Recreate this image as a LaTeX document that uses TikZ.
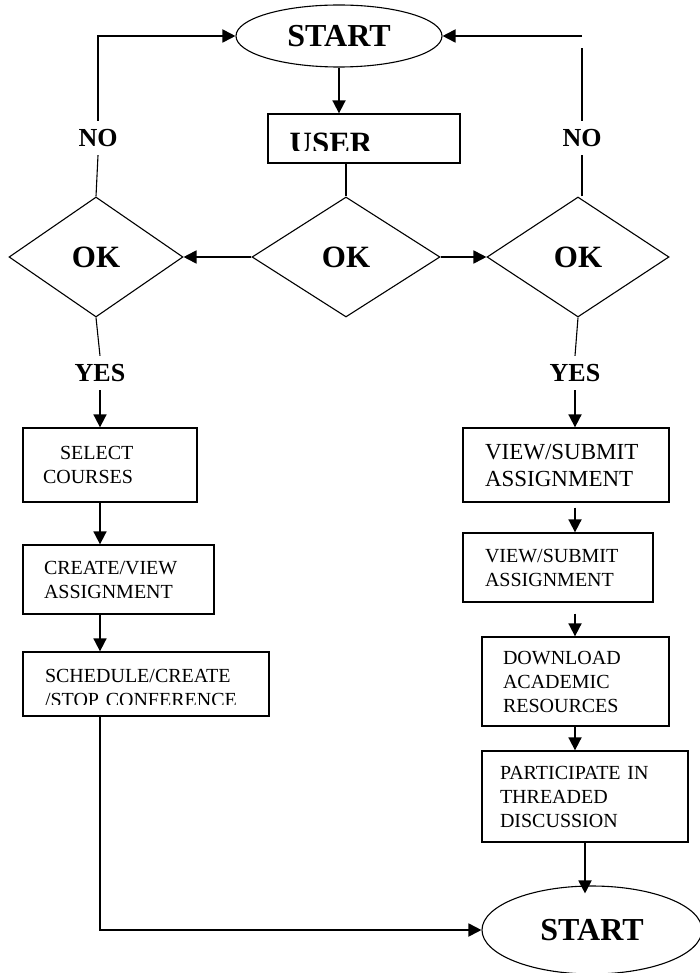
\documentclass[tikz,border=0pt]{standalone}
\usepackage{fontspec}
\setmainfont{Liberation Serif}
\usetikzlibrary{shapes.geometric,arrows.meta}
\begin{document}
\begin{tikzpicture}[x=1pt,y=-1pt,
        box/.style={draw,line width=1.3pt,inner ysep=0pt,align=left,font=\fontsize{20}{24}\selectfont},
        oval/.style={draw,ellipse,line width=1.1pt,inner sep=0pt,font=\fontsize{32}{36}\selectfont\bfseries},
        dia/.style={draw,diamond,line width=1.1pt,inner sep=0pt,minimum height=120pt,font=\fontsize{31}{36}\selectfont\bfseries},
        lbl/.style={inner sep=0pt,minimum height=34pt,font=\fontsize{26}{30}\selectfont\bfseries},
        arr/.style={line width=1.8pt,-{Triangle[length=13pt,width=13pt]}},
        ln/.style={line width=1.1pt}]
                \useasboundingbox (0,0) rectangle (700,973);
                \fill[white] (0,0) rectangle (700,973); % Белый фон
                \node[oval,minimum width=206pt,minimum height=62pt] (start) at (339,36) {START}; % Начало
                \node[draw,line width=1.3pt,minimum width=192pt,minimum height=49pt] (user) at (364,138.5) {};
                \begin{scope}
                    \clip (268,114) rectangle (460,151); % Текст обрезан снизу
                    \node[inner sep=0pt,font=\fontsize{31}{36}\selectfont\bfseries] (usertxt) at (331,143) {USER};
                \end{scope}
                \node[dia,minimum width=174pt] (ldia) at (96,257) {OK}; % Три проверки
                \node[dia,minimum width=188pt] (mdia) at (346,257) {OK};
                \node[dia,minimum width=182pt] (rdia) at (578,257) {OK};
                \node[lbl] (nol) at (98,138) {NO};
                \node[lbl] (nor) at (582,138) {NO};
                \node[lbl] (yesl) at (100,373) {YES};
                \node[lbl] (yesr) at (575,373) {YES};
                % Левая колонка
                \node[box,text width=134pt,inner xsep=20pt,minimum height=74pt] (sel) at (110,465) {\hspace*{17pt}SELECT\\COURSES};
                \node[box,text width=149pt,inner xsep=21pt,minimum height=69pt] (crv) at (118.5,579.5) {CREATE/VIEW\\ASSIGNMENT};
                \node[draw,line width=1.3pt,minimum width=246pt,minimum height=64pt] (sch) at (146,684) {};
                \begin{scope}
                    \clip (23,652) rectangle (269,704);
                    \node[box,draw=none,text width=202pt,inner xsep=22pt] (schtxt) at (146,688) {SCHEDULE/CREATE\\/STOP~CONFERENCE};
                \end{scope}
                % Правая колонка
                \node[box,text width=162pt,inner xsep=22pt,minimum height=74pt,font=\fontsize{23}{27}\selectfont] (vs1) at (566,465) {VIEW/SUBMIT\\ASSIGNMENT};
                \node[box,text width=146pt,inner xsep=22pt,minimum height=69pt] (vs2) at (558,567.5) {VIEW/SUBMIT\\ASSIGNMENT};
                \node[box,text width=145pt,inner xsep=21pt,minimum height=89pt] (dl) at (575.5,681.5) {DOWNLOAD\\ACADEMIC\\RESOURCES};
                \node[box,text width=170pt,inner xsep=18pt,minimum height=91pt] (pt) at (585,796.5) {PARTICIPATE~IN\\THREADED\\DISCUSSION};
                \node[oval,minimum width=220pt,minimum height=88pt] (endn) at (592,930) {START}; % Конец
                % Стрелки
                \draw[arr] (start.south) -- (start.south |- user.north);
                \draw[ln] (user.south -| mdia.north) -- (mdia.north);
                \draw[arr] (mdia.west) -- (ldia.east);
                \draw[arr] (mdia.east) -- (rdia.west);
                \draw[ln] (ldia.north) -- (nol.south);
                \draw[arr] (nol.north) |- (start.west);
                \coordinate (nortop) at (582,48);
                \draw[ln] (nor.south |- rdia.north) -- (nor.south);
                \draw[ln] (nor.north) -- (nortop);
                \draw[arr] (nortop |- start.east) -- (start.east);
                \draw[ln] (ldia.south) -- (yesl.north);
                \draw[arr] (yesl.south) -- (yesl.south |- sel.north);
                \draw[arr] (sel.south -| yesl) -- (crv.north -| yesl);
                \draw[arr] (crv.south -| yesl) -- (sch.north -| yesl);
                \draw[arr] (sch.south -| yesl) |- (endn.west);
                \draw[ln] (rdia.south) -- (yesr.north);
                \draw[arr] (yesr.south) -- (yesr.south |- vs1.north);
                \draw[arr,shorten <=5pt] (vs1.south -| yesr) -- (vs2.north -| yesr);
                \draw[arr,shorten <=11pt] (vs2.south -| yesr) -- (dl.north -| yesr);
                \draw[arr] (dl.south -| yesr) -- (pt.north -| yesr);
                \draw[arr,shorten >=-8pt] (pt.south) -- (pt.south |- endn.north);
\end{tikzpicture}
\end{document}
